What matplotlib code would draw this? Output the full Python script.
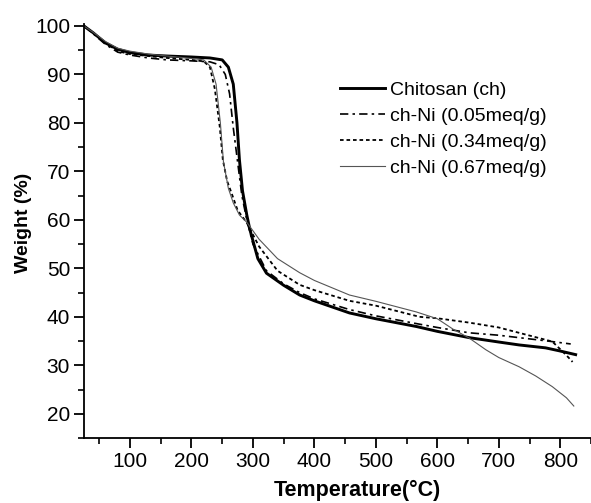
import matplotlib.pyplot as plt
from matplotlib.ticker import MultipleLocator

# Dados (TGA)
temp_ch = [25, 40, 60, 80, 100, 130, 160, 200, 230, 250, 260, 268, 274, 278, 283, 290,
           295, 308, 322, 350, 376, 400, 457, 500, 566, 600, 652, 700, 733, 776, 798, 825]
peso_ch = [100, 98.6, 96.5, 95.2, 94.5, 94.0, 93.8, 93.6, 93.4, 93.0, 91.5, 88, 80, 72.4, 66, 61,
           58, 52, 49, 46.5, 44.5, 43.3, 40.8, 39.6, 38.0, 37.0, 35.7, 34.8, 34.2, 33.6, 33.0, 32.2]

temp_005 = [25, 40, 60, 80, 100, 130, 160, 200, 230, 245, 255, 262, 268, 275, 282, 290, 300,
            322, 350, 376, 400, 457, 500, 566, 600, 652, 700, 733, 780, 817]
peso_005 = [100, 98.4, 96.2, 94.6, 94.0, 93.4, 93.0, 92.8, 92.6, 92.0, 90.0, 86, 79, 72, 65, 60, 55,
            49.5, 46.8, 45.0, 43.7, 41.5, 40.2, 38.6, 37.8, 36.7, 36.2, 35.7, 35.0, 34.4]

temp_034 = [25, 40, 60, 80, 100, 130, 160, 200, 220, 230, 238, 246, 251, 258, 265, 275, 290,
            310, 340, 376, 400, 457, 500, 571, 600, 652, 700, 733, 787, 809, 820]
peso_034 = [100, 98.5, 96.5, 94.8, 94.2, 93.8, 93.4, 93.0, 92.7, 91.5, 87, 79.2, 72.4, 68, 65.6, 62, 59.4,
            54.5, 49.5, 46.6, 45.5, 43.3, 42.3, 40.0, 39.7, 38.8, 37.8, 36.7, 34.9, 32.2, 30.7]

temp_067 = [25, 40, 60, 80, 100, 130, 160, 200, 220, 232, 240, 247, 252, 260, 268, 278, 290,
            310, 340, 376, 400, 457, 500, 566, 600, 625, 652, 679, 700, 733, 760, 787, 810, 822]
peso_067 = [100, 98.7, 96.8, 95.4, 94.8, 94.2, 93.8, 93.3, 93.0, 91.5, 88, 80, 72, 66.5, 63.5, 61, 59.5,
            56, 52, 49.1, 47.5, 44.5, 43.2, 41.0, 39.6, 37.5, 35.6, 33.2, 31.6, 29.7, 27.8, 25.6, 23.3, 21.6]

legendas = ["Chitosan (ch)", "ch-Ni (0.05meq/g)", "ch-Ni (0.34meq/g)", "ch-Ni (0.67meq/g)"]

plt.rcParams['font.family'] = ['Liberation Sans', 'DejaVu Sans']

fig = plt.figure(figsize=(5.91, 5.03), dpi=100)
ax = fig.add_axes([0.142, 0.1292, 0.858, 0.824])

ax.plot(temp_ch, peso_ch, color='black', lw=2.1, label=legendas[0])
ax.plot(temp_005, peso_005, color='black', lw=1.2, linestyle=(0, (5, 2.5, 1.5, 2.5)), label=legendas[1])
ax.plot(temp_034, peso_034, color='black', lw=1.3, linestyle=(0, (2, 1.6)), label=legendas[2])
ax.plot(temp_067, peso_067, color='#555555', lw=0.8, label=legendas[3])

ax.set_xlim(25, 850)
ax.set_ylim(15, 100.5)
ax.xaxis.set_minor_locator(MultipleLocator(50))
ax.yaxis.set_minor_locator(MultipleLocator(5))
ax.set_yticks(range(20, 101, 10))
ax.set_xticks(range(100, 801, 100))

ax.spines['top'].set_visible(False)
ax.spines['right'].set_visible(False)
for s in ['left', 'bottom']:
    ax.spines[s].set_linewidth(1.3)

ax.tick_params(which='major', direction='out', length=7, width=1.3, labelsize=15, pad=3)
ax.tick_params(which='minor', direction='out', length=4, width=1.2)

ax.set_xlabel("Temperature(°C)", fontsize=15.5, fontweight='bold')
ax.set_ylabel("Weight (%)", fontsize=14, fontweight='bold')
ax.xaxis.set_label_coords(0.54, -0.102)
ax.yaxis.set_label_coords(-0.102, 0.519)

ax.legend(loc='upper left', bbox_to_anchor=(0.575, 0.839), bbox_transform=fig.transFigure,
          frameon=False, fontsize=14, handlelength=2.3, handletextpad=0.28,
          labelspacing=0.44, borderaxespad=0, borderpad=0)

fig.savefig("out.png", dpi=100)
